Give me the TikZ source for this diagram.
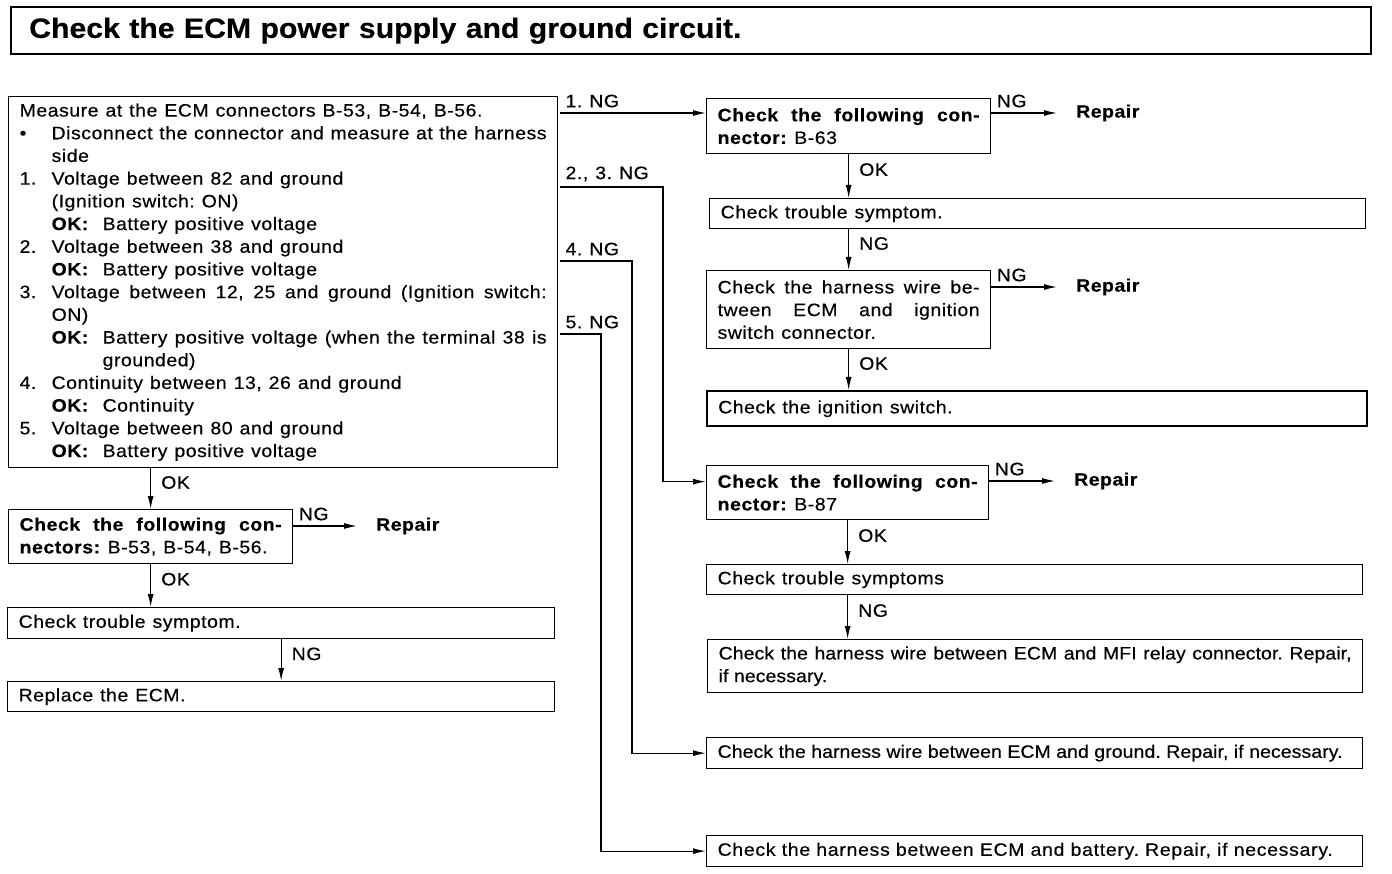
\documentclass[tikz,border=0pt]{standalone}
\usepackage{fontspec}
\setmainfont{Liberation Sans}[FakeStretch=1.08, LetterSpace=3, FakeBold=0.4]
\frenchspacing
\usetikzlibrary{positioning,arrows.meta}

\newcommand{\bodyfont}{\fontsize{18}{22.7}\selectfont\spaceskip=7pt plus 4pt minus 1.5pt\relax}
\newcommand{\titlefont}{\fontsize{28}{32}\selectfont\bfseries\addfontfeature{LetterSpace=0}}
\newcommand{\oklabel}{\makebox[51pt][l]{\textbf{OK:}}}
\newcommand{\numlabel}[1]{\makebox[32pt][l]{#1}}

\tikzset{
  box/.style={draw, line width=1.3pt, anchor=north west, inner xsep=11pt, inner ysep=0pt,
              align=justify, font=\bodyfont},
  thickbox/.style={box, line width=2.4pt},
  arr/.style={-{Latex[length=13pt,width=6pt]}, line width=1.2pt},
  yn/.style={font=\bodyfont, anchor=west, inner xsep=10pt, inner ysep=0pt, pos=0.35},
  ngl/.style={font=\bodyfont, anchor=south west, pos=0, inner xsep=5pt, inner ysep=5pt},
  repair/.style={font=\bodyfont\bfseries, anchor=west, inner xsep=19pt, inner ysep=0pt},
}

\begin{document}
\begin{tikzpicture}[x=1pt, y=-1pt]
\useasboundingbox (0,0) rectangle (1392,874);

% title
\node[thickbox, text width=1324pt, minimum height=47pt, inner xsep=18pt, align=left,
      font=\titlefont] (title) at (10,6) {Check the ECM power supply and ground circuit.};

% left column
\node[box, text width=527pt, minimum height=371pt] (meas) at (8,96) {%
Measure at the ECM connectors B-53, B-54, B-56.\par
\hangindent=32pt\hangafter=1\numlabel{\textbullet}Disconnect the connector and measure at the harness\linebreak side\par
\hangindent=32pt\hangafter=1\numlabel{1.}Voltage between 82 and ground\newline (Ignition switch: ON)\newline \oklabel Battery positive voltage\par
\hangindent=32pt\hangafter=1\numlabel{2.}Voltage between 38 and ground\newline \oklabel Battery positive voltage\par
\hangindent=32pt\hangafter=1\numlabel{3.}Voltage between 12, 25 and ground (Ignition switch:\linebreak ON)\par
{\leftskip=32pt\hangindent=51pt\hangafter=1\oklabel Battery positive voltage (when the terminal 38 is\linebreak grounded)\par}
\hangindent=32pt\hangafter=1\numlabel{4.}Continuity between 13, 26 and ground\newline \oklabel Continuity\par
\hangindent=32pt\hangafter=1\numlabel{5.}Voltage between 80 and ground\newline \oklabel Battery positive voltage\par};

\node[box, text width=262pt, minimum height=54pt] (conn) at (8,509)
  {\textbf{Check the following con-}\linebreak\textbf{nectors:} B-53, B-54, B-56.};
\node[repair] (rep0) at (357,526) {Repair};
\node[box, text width=525pt, minimum height=31pt] (trb0) at (7,607) {Check trouble symptom.};
\node[box, text width=525pt, minimum height=30pt] (repl) at (7,681) {Replace the ECM.};

% right column, branch 1
\node[box, text width=262pt, minimum height=55pt] (b63) at (706,98)
  {\textbf{Check the following con-}\linebreak\textbf{nector:} B-63};
\node[repair] (rep1) at (1057,113) {Repair};
\node[box, text width=634pt, minimum height=30pt] (trb1) at (709,198) {Check trouble symptom.};
\node[box, text width=262pt, minimum height=78pt] (harn) at (706,270)
  {Check the harness wire be-\linebreak tween ECM and ignition\linebreak switch connector.};
\node[repair] (rep2) at (1057,287) {Repair};
\node[thickbox, text width=638pt, minimum height=35pt] (ign) at (706,390) {Check the ignition switch.};

% branch 2, 3
\node[box, text width=260pt, minimum height=54pt] (b87) at (706,465)
  {\textbf{Check the following con-}\linebreak\textbf{nector:} B-87};
\node[repair] (rep3) at (1055,481) {Repair};
\node[box, text width=634pt, minimum height=30pt] (trb2) at (706,564) {Check trouble symptoms};
\node[box, text width=633pt, minimum height=53pt] (mfi) at (707,639)
  {\spaceskip=0pt\addfontfeature{LetterSpace=0.5}Check the harness wire between ECM and MFI relay connector. Repair,\linebreak if necessary.};

% branch 4, 5
\node[box, text width=634pt, minimum height=31pt] (gnd) at (706,737)
  {\spaceskip=0pt\addfontfeature{LetterSpace=0.5}Check the harness wire between ECM and ground. Repair, if necessary.};
\node[box, text width=634pt, minimum height=31pt] (bat) at (706,835)
  {\spaceskip=0pt\addfontfeature{LetterSpace=4}Check the harness between ECM and battery. Repair, if necessary.};

% branch points
\coordinate (n1) at (560,113);
\coordinate (n23) at (560,187);
\coordinate (n4) at (560,261);
\coordinate (n5) at (560,334);
\coordinate (k23) at (663,187);
\coordinate (k4) at (632,261);
\coordinate (k5) at (601,334);

\draw[arr] (meas.south -| conn.north) -- node[yn]{OK} (conn.north);
\draw[arr] (conn.east |- rep0) -- node[ngl]{NG} (rep0.west);
\draw[arr] (conn.south) -- node[yn]{OK} (conn.south |- trb0.north);
\draw[arr] (trb0.south) -- node[yn]{NG} (repl.north);

\draw[arr] (n1) -- node[ngl]{1. NG} (n1 -| b63.west);
\draw[arr] (n23) -- node[ngl]{2., 3. NG} (k23) |- ([yshift=11pt]b87.west);
\draw[arr] (n4) -- node[ngl]{4. NG} (k4) |- (gnd.west);
\draw[arr] (n5) -- node[ngl]{5. NG} (k5) |- (bat.west);

\draw[arr] (b63.east |- rep1) -- node[ngl]{NG} (rep1.west);
\draw[arr] (b63.south) -- node[yn]{OK} (b63.south |- trb1.north);
\draw[arr] (trb1.south -| harn.north) -- node[yn]{NG} (harn.north);
\draw[arr] (harn.east |- rep2) -- node[ngl]{NG} (rep2.west);
\draw[arr] (harn.south) -- node[yn]{OK} (harn.south |- ign.north);

\draw[arr] (b87.east |- rep3) -- node[ngl]{NG} (rep3.west);
\draw[arr] (b87.south) -- node[yn]{OK} (b87.south |- trb2.north);
\draw[arr] (trb2.south -| b87.south) -- node[yn]{NG} (b87.south |- mfi.north);
\end{tikzpicture}
\end{document}
